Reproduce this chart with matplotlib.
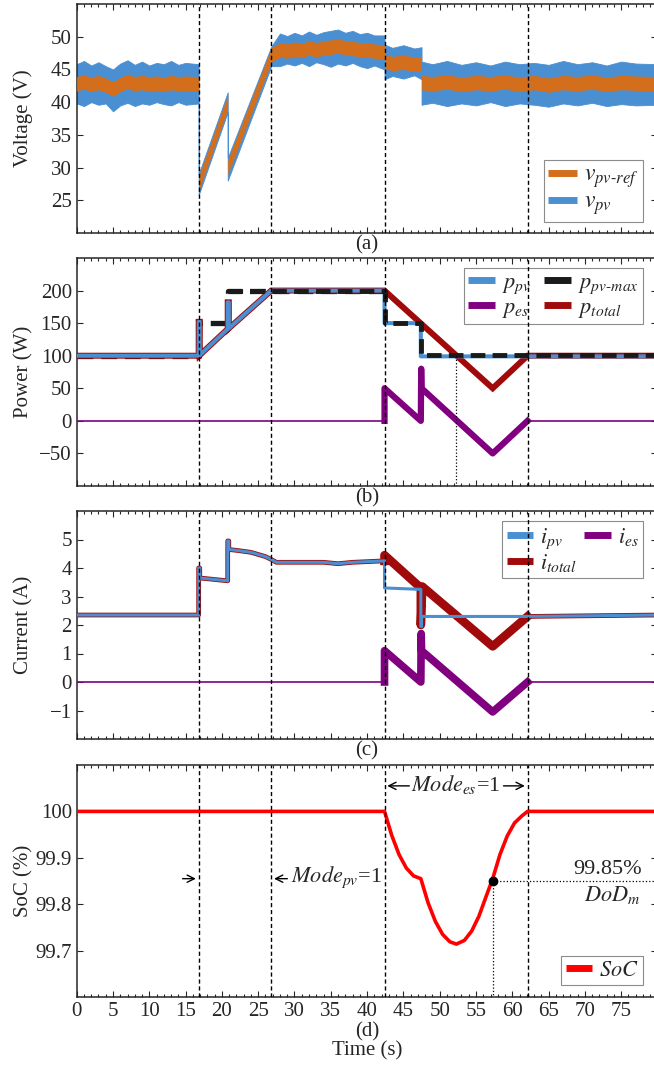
import matplotlib
matplotlib.use('Agg')
import matplotlib.pyplot as plt
from matplotlib.ticker import MultipleLocator
from matplotlib.lines import Line2D

# ---------------- data ----------------
mode_times = [16.8, 26.8, 42.4, 62.1]

# (a) voltage envelopes
t_v = [0, 1, 2, 3, 4, 5, 6, 7, 8, 9, 10, 11, 12, 13, 14, 15, 16.8, 16.8, 20.8, 20.8, 26.8,
       28, 29, 30, 31, 32, 33, 34, 35, 36, 37, 38, 39, 40, 41, 42.4, 42.4, 43.5, 45, 46.5, 47.5,
       47.5, 49, 51, 53, 55, 57, 59, 61, 63, 65, 67, 69, 71, 73, 75, 77, 80]
vpv_hi = [45.8, 46.3, 45.6, 46.1, 45.5, 45.0, 45.9, 46.4, 45.7, 46.2, 45.6, 46.0, 45.8, 46.3,
          45.7, 46.0, 45.8, 29.0, 41.5, 31.5, 48.5, 50.5, 50.1, 50.6, 50.2, 50.8, 50.3, 50.7,
          50.9, 51.1, 50.6, 50.9, 50.4, 50.6, 50.2, 50.2, 48.8, 48.3, 48.7, 48.2, 48.4, 46.2,
          45.8, 46.3, 45.7, 46.1, 45.6, 46.2, 45.8, 46.0, 45.7, 46.3, 45.8, 46.1, 45.6, 46.2,
          45.9, 45.8]
vpv_lo = [39.8, 39.4, 40.0, 39.6, 39.8, 38.6, 39.5, 39.9, 39.4, 39.8, 39.6, 40.0, 39.7, 39.5,
          40.0, 39.6, 39.8, 25.8, 38.5, 28.0, 45.5, 45.5, 45.9, 45.6, 46.0, 45.5, 46.1, 45.8,
          45.4, 45.9, 45.6, 46.0, 45.5, 45.2, 45.6, 45.0, 43.5, 44.0, 43.6, 44.1, 43.5, 39.6,
          39.9, 39.4, 39.8, 39.5, 40.0, 39.4, 39.8, 39.6, 39.3, 39.8, 39.5, 39.9, 39.4, 39.7,
          39.5, 39.6]
vref_c = [42.8, 43.1, 42.7, 43.0, 42.6, 42.0, 42.7, 43.2, 42.8, 43.0, 42.8, 42.9, 42.7, 43.0,
          42.8, 42.9, 42.8, 27.5, 40.0, 30.0, 47.2, 48.0, 47.8, 48.1, 47.9, 48.3, 48.0, 48.3,
          48.4, 48.6, 48.3, 48.2, 48.0, 48.0, 47.8, 47.6, 46.2, 45.9, 46.1, 45.8, 45.9, 43.0,
          42.8, 43.1, 42.7, 43.0, 42.8, 43.1, 42.7, 43.0, 42.6, 43.0, 42.8, 43.1, 42.7, 43.0,
          42.9, 42.8]
vref_hw = 1.1

# (b) power
t_ppv = [0, 16.8, 16.8, 16.95, 16.95, 20.8, 20.8, 20.95, 20.95, 26.8, 42.4, 42.4, 47.4, 47.4, 80]
p_pv = [100, 100, 152, 152, 101, 141, 182, 182, 142, 200, 200, 150, 150, 99, 99]
t_pmax = [0, 16.8, 16.8, 20.8, 20.8, 42.4, 42.4, 47.4, 47.4, 80]
p_pvmax = [100, 100, 150, 150, 200, 200, 150, 150, 101, 101]
t_ptot = [0, 16.8, 16.8, 16.95, 16.95, 20.8, 20.8, 20.95, 20.95, 26.8, 42.4, 57.3, 62.1, 80]
p_total = [100, 100, 152, 152, 101, 141, 182, 182, 142, 200, 200, 50, 100, 100]
t_pes = [0, 42.4, 42.4, 47.4, 47.45, 47.5, 57.3, 62.1, 80]
p_es = [0, 0, 50, 0, 80, 50, -50, 0, 0]
p_cross_t = 52.2

# (c) current
t_ipv = [0, 16.8, 16.8, 16.95, 16.95, 20.8, 20.8, 20.95, 20.95, 22, 24, 26, 26.8, 27.5, 30, 34, 36,
         38, 42.4, 42.4, 47.4, 47.4, 47.5, 47.5, 55, 62, 80]
i_pv = [2.35, 2.35, 4.0, 4.0, 3.65, 3.55, 4.95, 4.95, 4.65, 4.62, 4.55, 4.4, 4.3, 4.2, 4.2, 4.2,
        4.15, 4.2, 4.25, 3.3, 3.25, 1.95, 1.95, 2.3, 2.3, 2.3, 2.35]
t_itot = [0, 16.8, 16.8, 16.95, 16.95, 20.8, 20.8, 20.95, 20.95, 22, 24, 26, 26.8, 27.5, 30, 34, 36,
          38, 42.4, 42.4, 47.4, 47.4, 47.6, 57.3, 62.1, 80]
i_total = [2.35, 2.35, 4.0, 4.0, 3.65, 3.55, 4.95, 4.95, 4.65, 4.62, 4.55, 4.4, 4.3, 4.2, 4.2, 4.2,
           4.15, 4.2, 4.25, 4.45, 3.3, 2.0, 3.35, 1.25, 2.3, 2.35]
t_ies = [0, 42.4, 42.4, 47.4, 47.45, 47.5, 57.3, 62.1, 80]
i_es = [0, 0, 1.1, 0.0, 1.7, 1.1, -1.05, 0, 0]

# (d) state of charge
t_soc = [0, 42.4, 43.4, 44.4, 45.4, 46.4, 47.4, 48.4, 49.4, 50.4, 51.4, 52.3, 53.4, 54.4, 55.4,
         56.4, 57.3, 58.3, 59.3, 60.3, 61.3, 62.1, 80]
soc = [100, 100, 99.948, 99.907, 99.878, 99.861, 99.855, 99.803, 99.763, 99.735, 99.719, 99.714,
       99.722, 99.742, 99.774, 99.817, 99.855, 99.907, 99.947, 99.975, 99.990, 100, 100]
dod_t, dod_v = 57.3, 99.85

# ---------------- style ----------------
C_BLUE = '#4A8FD2'
C_ORANGE = '#D36F1C'
C_BLACK = '#1A1A1A'
C_PURPLE = '#800080'
C_DRED = '#A00A0A'
C_RED = '#FF0000'
TXT = '#262626'
FS = 15

plt.rcParams['font.family'] = ['Liberation Serif', 'DejaVu Serif']
plt.rcParams['mathtext.fontset'] = 'stix'
plt.rcParams['font.size'] = FS
plt.rcParams['text.color'] = TXT
plt.rcParams['axes.labelcolor'] = TXT
plt.rcParams['axes.edgecolor'] = TXT
plt.rcParams['xtick.color'] = TXT
plt.rcParams['ytick.color'] = TXT
plt.rcParams['axes.linewidth'] = 1.1

fig = plt.figure(figsize=(6.54, 10.66), dpi=100)
FW, FH = 654.0, 1066.0
L = 76.7 / FW
W = 580.8 / FW


def pos(top, bottom):
    return [L, 1 - bottom / FH, W, (bottom - top) / FH]


ax_a = fig.add_axes(pos(4, 233))
ax_b = fig.add_axes(pos(258, 486))
ax_c = fig.add_axes(pos(511, 739))
ax_d = fig.add_axes(pos(765, 997))
axes = [ax_a, ax_b, ax_c, ax_d]

for ax in axes:
    ax.set_xlim(0, 80)
    ax.xaxis.set_major_locator(MultipleLocator(5))
    ax.xaxis.set_minor_locator(MultipleLocator(1))
    ax.tick_params(which='both', direction='in', top=True, right=True, width=0.8,
                   labelsize=FS)
    ax.tick_params(which='major', length=4.5)
    ax.tick_params(which='minor', length=2.2)
    for x in mode_times:
        ax.axvline(x, color='k', ls=(0, (3, 2)), lw=1.0, zorder=6)
    ax.yaxis.set_label_coords(-0.075, 0.5)
for ax in axes[:3]:
    ax.tick_params(labelbottom=False)


def leg_handle(c):
    return Line2D([], [], color=c, lw=5, solid_capstyle='butt')


leg_kw = dict(frameon=True, fancybox=False, framealpha=1, edgecolor='#8C8C8C',
              handlelength=1.2, handletextpad=0.3, borderpad=0.2, labelspacing=0.05,
              columnspacing=0.6, borderaxespad=0, fontsize=16)

# (a)
ax_a.fill_between(t_v, vpv_lo, vpv_hi, color=C_BLUE, lw=0.6, edgecolor=C_BLUE, zorder=2)
ax_a.fill_between(t_v, [v - vref_hw for v in vref_c], [v + vref_hw for v in vref_c],
                  color=C_ORANGE, lw=0, zorder=3)
ax_a.set_ylim(20, 55)
ax_a.set_yticks([25, 30, 35, 40, 45, 50])
ax_a.set_ylabel('Voltage (V)')
lg = ax_a.legend([leg_handle(C_ORANGE), leg_handle(C_BLUE)],
                 [r'$v_{pv\text{-}ref}$', r'$v_{pv}$'],
                 loc='lower right', bbox_to_anchor=(0.975, 0.048),
                 **dict(leg_kw, fontsize=17))
lg.get_frame().set_linewidth(0.8)

# (b)
ax_b.plot(t_pmax[:6], p_pvmax[:6], color=C_BLACK, lw=3.8, ls=(0, (3, 1.5)), zorder=1.5)
ax_b.plot(t_ptot, p_total, color=C_DRED, lw=4.3, zorder=2, solid_joinstyle='miter')
ax_b.plot(t_ppv, p_pv, color=C_BLUE, lw=2.9, zorder=3)
ax_b.plot(t_pmax[4:], p_pvmax[4:], color=C_BLACK, lw=3.5, ls=(0, (3, 1.5)), zorder=4)
ax_b.plot(t_pes[:2], p_es[:2], color=C_PURPLE, lw=1.2, zorder=3)
ax_b.plot(t_pes[1:8], p_es[1:8], color=C_PURPLE, lw=4.5, zorder=3)
ax_b.plot(t_pes[7:], p_es[7:], color=C_PURPLE, lw=1.2, zorder=3)
ax_b.plot([p_cross_t, p_cross_t], [100, -100], color='k', ls=':', lw=0.9, zorder=5)
ax_b.set_ylim(-100, 250)
ax_b.set_yticks([-50, 0, 50, 100, 150, 200])
ax_b.set_ylabel('Power (W)')
lg = ax_b.legend([leg_handle(C_BLUE), leg_handle(C_PURPLE), leg_handle(C_BLACK), leg_handle(C_DRED)],
                 [r'$p_{pv}$', r'$p_{es}$', r'$p_{pv\text{-}max}$', r'$p_{total}$'],
                 ncol=2, loc='upper right', bbox_to_anchor=(0.975, 0.955), **leg_kw)
lg.get_frame().set_linewidth(0.8)

# (c)
ax_c.plot(t_itot[:19], i_total[:19], color=C_DRED, lw=3.4, zorder=2)
ax_c.plot(t_itot[18:25], i_total[18:25], color=C_DRED, lw=6.2, zorder=2)
ax_c.plot(t_itot[24:], i_total[24:], color=C_DRED, lw=3.4, zorder=2)
ax_c.plot(t_ipv, i_pv, color=C_BLUE, lw=2.2, zorder=3)
ax_c.plot(t_ies[:2], i_es[:2], color=C_PURPLE, lw=1.2, zorder=3)
ax_c.plot(t_ies[1:8], i_es[1:8], color=C_PURPLE, lw=5.5, zorder=3)
ax_c.plot(t_ies[7:], i_es[7:], color=C_PURPLE, lw=1.2, zorder=3)
ax_c.set_ylim(-2, 6)
ax_c.set_yticks([-1, 0, 1, 2, 3, 4, 5])
ax_c.set_ylabel('Current (A)')
lg = ax_c.legend([leg_handle(C_BLUE), leg_handle(C_DRED), leg_handle(C_PURPLE)],
                 [r'$i_{pv}$', r'$i_{total}$', r'$i_{es}$'],
                 ncol=2, loc='upper right', bbox_to_anchor=(0.975, 0.955),
                 **dict(leg_kw, columnspacing=0.35))
lg.get_frame().set_linewidth(0.8)

# (d)
ax_d.plot(t_soc, soc, color=C_RED, lw=2.6, zorder=3)
ax_d.set_ylim(99.6, 100.1)
ax_d.set_yticks([99.7, 99.8, 99.9, 100])
ax_d.set_yticklabels(['99.7', '99.8', '99.9', '100'])
ax_d.set_ylabel('SoC (%)')
ax_d.plot([dod_t], [dod_v], 'o', color='k', ms=6, zorder=7)
ax_d.plot([dod_t, 80], [dod_v, dod_v], color='k', ls=':', lw=0.9, zorder=5)
ax_d.plot([dod_t, dod_t], [dod_v, 99.6], color='k', ls=':', lw=0.9, zorder=5)
ax_d.text(77.8, dod_v + 0.005, '99.85%', ha='right', va='bottom', fontsize=16)
ax_d.text(77.6, dod_v - 0.006, r'$DoD_m$', ha='right', va='top', fontsize=16)
arrow_kw = dict(arrowstyle='->', color='k', lw=1.0, mutation_scale=13)
ax_d.text(52.25, 100.058, r'$Mode_{es}$=1', ha='center', va='center', fontsize=16)
ax_d.annotate('', xy=(42.4, 100.055), xytext=(46.2, 100.055), arrowprops=arrow_kw)
ax_d.annotate('', xy=(62.1, 100.055), xytext=(58.4, 100.055), arrowprops=arrow_kw)
ax_d.annotate('', xy=(16.8, 99.855), xytext=(14.2, 99.855), arrowprops=arrow_kw)
ax_d.annotate('', xy=(26.8, 99.855), xytext=(29.4, 99.855), arrowprops=arrow_kw)
ax_d.text(29.5, 99.858, r'$Mode_{pv}$=1', ha='left', va='center', fontsize=16)
lg = ax_d.legend([leg_handle(C_RED)], [r'$SoC$'], loc='lower right',
                 bbox_to_anchor=(0.975, 0.05), **leg_kw)
lg.get_frame().set_linewidth(0.8)
ax_d.set_xticks(range(0, 80, 5))
ax_d.set_xlabel('(d)\nTime (s)', labelpad=1, linespacing=0.95)

for ax, lab in zip(axes[:3], ['(a)', '(b)', '(c)']):
    ax.text(0.5, -0.008, lab, transform=ax.transAxes, ha='center', va='top', fontsize=FS)

fig.savefig('out.png', dpi=100)
